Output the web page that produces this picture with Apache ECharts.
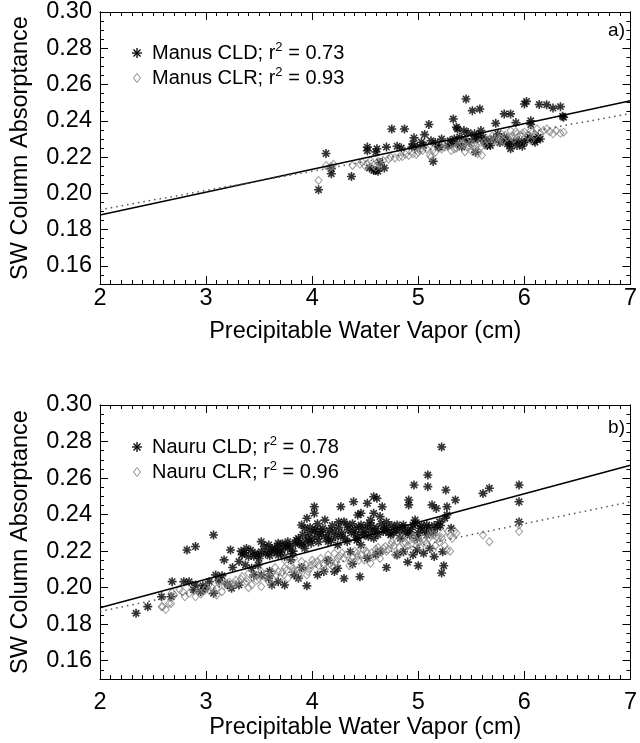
<!DOCTYPE html>
<html>
<head>
<meta charset="utf-8">
<script src="https://cdn.jsdelivr.net/npm/echarts/dist/echarts.min.js"></script>
<style>html,body{margin:0;padding:0;background:#fff}#c{width:640px;height:743px}</style>
</head>
<body>
<div id="c"></div>
<script>
// ---------------- data ----------------
const manusCld = [
[4.06,0.202],[4.13,0.222],[4.18,0.2136],[4.18,0.2108],[4.37,0.2093],[4.52,0.2255],[4.61,0.2246],[4.70,0.2255],
[4.58,0.2126],[4.62,0.2122],[4.60,0.2126],[4.75,0.2355],[4.87,0.2355],[4.96,0.2306],[5.06,0.2324],[5.10,0.238],
[4.94,0.2255],[4.99,0.2255],[5.14,0.2176],[5.19,0.2255],[5.33,0.241],[5.36,0.2364],[5.37,0.2355],[5.43,0.2346],
[5.45,0.252],[5.51,0.2456],[5.58,0.2465],[5.53,0.2328],[5.59,0.2346],[5.56,0.230],[5.54,0.2227],[5.64,0.2273],
[5.65,0.2264],[5.73,0.2386],[5.75,0.2328],[5.81,0.231],[5.81,0.2438],[5.87,0.2438],[5.87,0.2246],[5.93,0.2264],
[5.92,0.239],[6.0,0.2493],[6.02,0.2507],[6.06,0.240],[6.06,0.238],[6.09,0.2291],[6.15,0.230],[6.14,0.249],
[6.21,0.2489],[6.27,0.247],[6.34,0.2478],[6.37,0.242],[6.36,0.2425],[5.28,0.2264],[5.31,0.2273],[5.37,0.2273],
[5.20,0.2255],[5.41,0.2255],[5.68,0.2264],[5.84,0.2273],[6.0,0.2282],[6.03,0.230],[6.10,0.2282],[6.13,0.231],
[4.95,0.2273],[5.03,0.2282],[5.05,0.2264],[4.52,0.2235],[4.60,0.2228],[5.47,0.2335],[5.62,0.2290],[5.90,0.2285],
[5.30,0.2290],[5.34,0.2300],[5.39,0.2310],[5.44,0.2300],[5.48,0.2280],[5.52,0.2300],[5.57,0.2320],[5.61,0.2310],
[5.66,0.2290],[5.71,0.2300],[5.77,0.2280],[5.83,0.2300],[5.86,0.2270],[5.95,0.2290],[5.98,0.2260],[6.05,0.2310],
[6.12,0.2300],[5.12,0.2290],[5.16,0.2280],[5.22,0.2300],[4.54,0.2140],[4.64,0.2170],[4.68,0.2140],[4.80,0.2260],
[4.84,0.2250]
];
const manusClr = [
[4.06,0.2071],[4.13,0.2154],[4.16,0.2141],[4.18,0.2148],[4.38,0.2154],[4.47,0.2172],[4.55,0.2181],[4.58,0.2154],
[4.60,0.2145],[4.63,0.2163],[4.67,0.2181],[4.74,0.220],[4.85,0.2203],[4.91,0.2209],[4.95,0.2218],[5.0,0.2227],
[5.08,0.2245],[5.11,0.2209],[5.12,0.220],[5.25,0.2255],[5.31,0.2236],[5.37,0.2264],[5.42,0.2273],[5.50,0.2273],
[5.53,0.2245],[5.56,0.2236],[5.59,0.2255],[5.62,0.2282],[5.50,0.2236],[5.56,0.2218],[5.68,0.230],[5.75,0.2282],
[5.78,0.2328],[5.84,0.231],[5.87,0.2346],[5.93,0.2328],[6.0,0.2337],[6.06,0.2346],[6.12,0.2355],[6.18,0.2346],
[6.21,0.2355],[6.27,0.2328],[6.34,0.2331],[6.37,0.2337],[6.06,0.2291],[5.04,0.2236],[5.16,0.2227],[5.20,0.2264],
[5.45,0.229],[5.65,0.2295],[5.70,0.2318],[5.90,0.2300],[5.96,0.2318],[6.10,0.2320],[4.52,0.2163],[4.72,0.2190],
[4.88,0.2215],[5.34,0.2245],[5.46,0.2255],[5.80,0.2290],
[4.20,0.2160],[4.45,0.2160],[4.50,0.2150],[4.62,0.2175],[4.78,0.2195],[4.82,0.2200],[4.98,0.2215],[5.02,0.2240],
[5.14,0.2240],[5.22,0.2245],[5.28,0.2260],[5.36,0.2250],[5.40,0.2270],[5.48,0.2260],[5.52,0.2270],[5.58,0.2280],
[5.63,0.2265],[5.72,0.2290],[5.77,0.2305],[5.82,0.2320],[5.88,0.2315],[5.92,0.2340],[5.98,0.2330],[6.03,0.2320],
[6.08,0.2340],[6.15,0.2330],[6.24,0.2340],[6.30,0.2345],[5.60,0.2210],[5.44,0.2230]
];
const nauruCld = [
[5.22,0.277],[5.09,0.2617],[5.09,0.2553],[4.96,0.2562],[5.26,0.2535],[5.35,0.248],[5.61,0.2516],[5.67,0.2544],
[5.95,0.2562],[5.95,0.247],[5.95,0.236],[4.91,0.248],[4.91,0.2453],[5.13,0.2453],[5.17,0.2434],[5.27,0.2443],
[5.27,0.2398],[4.58,0.2498],[4.61,0.2489],[4.66,0.2443],[4.39,0.247],[4.52,0.2462],[4.27,0.2443],[4.02,0.2443],
[4.02,0.2407],[4.43,0.2398],[4.46,0.2407],[4.58,0.2407],[4.64,0.2389],[3.07,0.2288],[2.82,0.2206],[2.90,0.2225],
[3.23,0.2206],[3.17,0.2152],[2.68,0.2033],[2.79,0.2033],[2.84,0.2033],[3.03,0.2033],[3.09,0.207],[2.58,0.195],
[2.67,0.195],[2.45,0.1896],[2.34,0.186],[3.38,0.2215],[3.46,0.2188],[3.52,0.2197],[3.59,0.2197],[3.40,0.2170],
[3.49,0.2179],[3.65,0.2206],[3.71,0.2206],[3.77,0.2215],[3.31,0.2143],[3.37,0.2124],[3.43,0.2106],[3.49,0.2124],
[3.68,0.2179],[3.74,0.217],[3.80,0.2152],[3.90,0.2234],[3.93,0.2215],[3.99,0.2243],[3.90,0.2343],[3.93,0.2325],
[4.02,0.2307],[4.08,0.2307],[4.15,0.2288],[4.21,0.2307],[3.87,0.227],[3.96,0.227],[4.05,0.228],[4.15,0.2252],
[4.24,0.2234],[4.33,0.2252],[4.43,0.227],[4.49,0.2288],[4.55,0.2307],[4.30,0.2361],[4.33,0.2343],[4.46,0.2343],
[4.52,0.2343],[4.61,0.2325],[4.67,0.2307],[4.74,0.2288],[4.80,0.2343],[4.86,0.2343],[4.95,0.2343],[5.02,0.2325],
[5.08,0.2343],[4.83,0.227],[4.92,0.2288],[4.99,0.227],[5.08,0.2288],[5.20,0.2361],[5.25,0.238],[5.31,0.2325],
[4.21,0.2088],[4.24,0.2106],[3.68,0.2033],[3.62,0.2015],[3.74,0.2015],[3.83,0.207],[3.87,0.2051],[4.05,0.207],
[4.11,0.2088],[3.24,0.1997],[3.31,0.2015],[3.07,0.1969],[2.99,0.1997],[2.90,0.2015],[2.95,0.1978],[3.59,0.2051],
[3.52,0.207],[4.80,0.2179],[4.86,0.2197],[4.99,0.2206],[5.05,0.2188],[5.11,0.2215],[5.23,0.2197],[4.36,0.2197],
[4.46,0.2234],[4.52,0.2161],[4.64,0.2197],[3.52,0.2252],[3.59,0.2234],[3.68,0.2243],[3.77,0.2252],[3.55,0.2225],
[3.62,0.2215],[3.85,0.2260],[4.10,0.2325],[4.18,0.2260],[4.27,0.2280],[4.37,0.2300],[4.40,0.2320],[4.58,0.2270],
[4.70,0.2330],[4.77,0.2300],[4.90,0.2310],[5.00,0.2300],[5.15,0.2340],[4.12,0.2370],[3.95,0.2380],[4.65,0.2350],
[4.42,0.2260],[3.72,0.2240],[3.82,0.2200],[3.34,0.2180],[3.25,0.2110],[3.15,0.2065],[2.97,0.2010],[4.90,0.2140],
[5.00,0.2120],[5.22,0.2080],[4.70,0.2110],[4.45,0.2060],[3.95,0.2010],
[3.33,0.2200],[3.36,0.2190],[3.42,0.2205],[3.45,0.2172],[3.50,0.2160],[3.56,0.2185],[3.60,0.2175],[3.64,0.2195],
[3.67,0.2225],[3.70,0.2195],[3.75,0.2230],[3.79,0.2230],[3.81,0.2185],[3.84,0.2240],[3.88,0.2245],[3.91,0.2290],
[3.94,0.2250],[3.97,0.2300],[4.00,0.2265],[4.03,0.2320],[4.06,0.2250],[4.09,0.2290],[4.13,0.2270],[4.16,0.2315],
[4.19,0.2340],[4.22,0.2280],[4.25,0.2330],[4.28,0.2300],[4.31,0.2270],[4.34,0.2320],[4.38,0.2350],[4.41,0.2290],
[4.44,0.2330],[4.47,0.2300],[4.50,0.2320],[4.53,0.2280],[4.56,0.2340],[4.59,0.2310],[4.62,0.2290],[4.68,0.2320],
[4.72,0.2300],[4.75,0.2340],[4.78,0.2320],[4.82,0.2310],[4.85,0.2330],[4.88,0.2300],[4.93,0.2320],[4.97,0.2350],
[5.03,0.2340],[5.06,0.2310],[5.10,0.2330],[5.14,0.2300],[5.18,0.2330],[5.21,0.2340],[4.97,0.2370],[4.70,0.2360],
[4.55,0.2370],[4.25,0.2360],[4.05,0.2350],[3.98,0.2330],[3.45,0.2070],[3.60,0.2090],[3.90,0.2110],[4.15,0.2150],
[4.38,0.2130],[4.60,0.2180],[4.95,0.2180],[5.15,0.2170],[5.24,0.2120],[4.30,0.2050],[3.20,0.2020],[2.88,0.1990],
[3.12,0.2040]
];
const nauruClr = [
[2.59,0.1896],[2.67,0.1914],[2.68,0.1973],[2.58,0.1896],[2.65,0.1914],[2.78,0.1978],[2.84,0.1969],[2.90,0.195],
[2.93,0.1978],[2.99,0.1987],[3.06,0.1997],[3.12,0.2033],[3.18,0.2024],[3.24,0.2015],[3.31,0.2033],[3.37,0.2024],
[3.43,0.2015],[3.52,0.2006],[3.59,0.2033],[3.46,0.207],[3.52,0.2088],[3.62,0.2079],[3.68,0.2088],[3.74,0.2106],
[3.77,0.2051],[3.83,0.2088],[3.90,0.2097],[3.96,0.2088],[3.99,0.2124],[4.05,0.2143],[4.11,0.2124],[4.18,0.2143],
[4.24,0.2161],[4.15,0.2179],[4.21,0.2188],[4.30,0.2161],[4.36,0.2143],[4.43,0.217],[4.49,0.2152],[4.55,0.2134],
[4.52,0.2188],[4.61,0.2197],[4.67,0.2215],[4.74,0.2234],[4.80,0.2252],[4.86,0.2243],[4.92,0.2261],[4.99,0.2252],
[5.05,0.227],[5.11,0.2288],[5.14,0.2288],[5.19,0.227],[5.23,0.2298],[5.28,0.2307],[5.36,0.2298],[5.14,0.2206],
[5.27,0.2206],[5.61,0.2288],[5.67,0.2252],[5.95,0.2343],[5.95,0.2307],[4.83,0.2188],[4.92,0.2197],[3.83,0.2161],
[3.90,0.2143],[3.74,0.2152],[3.40,0.2079],[3.34,0.2061],[3.15,0.1978],[3.21,0.2006],[2.75,0.1990],[2.88,0.1985],
[3.00,0.2000],[3.28,0.2040],[3.55,0.2060],[3.65,0.2110],[3.80,0.2120],[3.92,0.2110],[4.00,0.2150],[4.08,0.2160],
[4.28,0.2190],[4.40,0.2200],[4.48,0.2210],[4.58,0.2170],[4.62,0.2220],[4.70,0.2200],[4.78,0.2180],[4.90,0.2230],
[5.02,0.2220],[5.08,0.2240],[5.20,0.2250],[5.25,0.2230],[5.32,0.2270],[4.35,0.2120],[4.20,0.2110],[3.95,0.2070],
[3.70,0.2050],[3.48,0.2040],[4.95,0.2280],[4.85,0.2270],[4.75,0.2250],
[2.70,0.1960],[2.80,0.1950],[2.95,0.1965],[3.03,0.1985],[3.10,0.1995],[3.17,0.2010],[3.22,0.2030],[3.27,0.2020],
[3.33,0.2045],[3.38,0.2035],[3.44,0.2055],[3.50,0.2050],[3.56,0.2075],[3.60,0.2065],[3.66,0.2070],[3.72,0.2085],
[3.76,0.2095],[3.82,0.2105],[3.86,0.2095],[3.94,0.2125],[3.98,0.2105],[4.02,0.2135],[4.06,0.2120],[4.13,0.2150],
[4.17,0.2130],[4.23,0.2140],[4.26,0.2175],[4.32,0.2180],[4.38,0.2165],[4.42,0.2190],[4.46,0.2180],[4.51,0.2200],
[4.56,0.2190],[4.60,0.2210],[4.65,0.2195],[4.69,0.2225],[4.72,0.2210],[4.77,0.2230],[4.82,0.2220],[4.88,0.2245],
[4.93,0.2240],[4.97,0.2265],[5.01,0.2250],[5.06,0.2255],[5.10,0.2270],[5.17,0.2280],[5.22,0.2275],[5.30,0.2285],
[5.34,0.2310],[5.16,0.2230],[5.30,0.2200],[4.64,0.2160],[4.44,0.2150],[4.12,0.2100],[3.88,0.2060],[3.62,0.2020],
[3.40,0.2000],[3.10,0.1960],[2.62,0.1880]
];
// regression lines (end points)
const manusCldFit = [[2,0.188],[7,0.251]];
const manusClrFit = [[2,0.191],[7,0.244]];
const nauruCldFit = [[2,0.189],[7,0.267]];
const nauruClrFit = [[2,0.187],[7,0.247]];
// axes
const xMin = 2, xMax = 7, xStep = 1;
const yMin = 0.15, yMax = 0.30, yMinorStep = 0.005;
const yLabelValues = [0.16,0.18,0.20,0.22,0.24,0.26,0.28,0.30];
const legendA = ['Manus CLD; r', '2', ' = 0.73', 'Manus CLR; r', '2', ' = 0.93'];
const legendB = ['Nauru CLD; r', '2', ' = 0.78', 'Nauru CLR; r', '2', ' = 0.96'];
const panelTags = ['a)', 'b)'];
const xTitle = 'Precipitable Water Vapor (cm)';
const yTitle = 'SW Column Absorptance';

// ---------------- chart ----------------
const FONT = "'Liberation Sans', Arial, Helvetica, sans-serif";
const ASTER = 'path://M5,0L5,10M0,5L10,5M1.5,1.5L8.5,8.5M8.5,1.5L1.5,8.5';
const GRAY = '#858585';

const grids = [
  {left:100, top:11, width:536, height:273},
  {left:100, top:405, width:536, height:274}
];
const xLabelMargins = [3, 12];

const TICK = {color:'#000', width:1};
const xAxes = [], yAxes = [];
grids.forEach((g, gi) => {
  const common = {type:'value', min:xMin, max:xMax, interval:xStep, gridIndex:gi,
    axisLine:{show:true, onZero:false, lineStyle:{color:'#000', width:1}},
    axisTick:{show:true, inside:true, length:8, lineStyle:TICK},
    minorTick:{show:true, splitNumber:10, length:4, lineStyle:TICK},
    splitLine:{show:false}};
  xAxes.push(Object.assign({}, common, {position:'bottom',
    name:xTitle, nameLocation:'middle', nameGap:36,
    nameTextStyle:{fontSize:23.5, color:'#000', fontFamily:FONT},
    axisLabel:{fontSize:23.5, color:'#000', fontFamily:FONT, margin:xLabelMargins[gi]}}));
  xAxes.push(Object.assign({}, common, {position:'top', axisLabel:{show:false}}));
  const yc = {type:'value', min:yMin, max:yMax, gridIndex:gi, splitLine:{show:false},
    axisLine:{show:true, onZero:false, lineStyle:{color:'#000', width:1}}};
  yAxes.push(Object.assign({}, yc, {position:'left',
    name:yTitle, nameLocation:'middle', nameGap:67,
    nameTextStyle:{fontSize:23.5, color:'#000', fontFamily:FONT},
    axisTick:{show:true, inside:true, length:8, customValues:yLabelValues, lineStyle:TICK},
    axisLabel:{customValues:yLabelValues, fontSize:23.5, color:'#000', fontFamily:FONT, margin:8,
      formatter:v => Number(v).toFixed(2)}}));
  yAxes.push(Object.assign({}, yc, {position:'left', interval:yMinorStep,
    axisTick:{show:true, inside:true, length:4, lineStyle:TICK}, axisLabel:{show:false}}));
  yAxes.push(Object.assign({}, yc, {position:'right',
    axisTick:{show:true, inside:true, length:8, customValues:yLabelValues, lineStyle:TICK},
    axisLabel:{show:false}}));
  yAxes.push(Object.assign({}, yc, {position:'right', interval:yMinorStep,
    axisTick:{show:true, inside:true, length:4, lineStyle:TICK}, axisLabel:{show:false}}));
});

function panelSeries(gi, cld, clr, cldFit, clrFit) {
  const xi = gi*2, yi = gi*4;
  return [
    {type:'scatter', xAxisIndex:xi, yAxisIndex:yi, data:cld, symbol:ASTER, symbolSize:9,
      itemStyle:{color:'transparent', borderColor:'#000', borderWidth:1.6}, z:2},
    {type:'scatter', xAxisIndex:xi, yAxisIndex:yi, data:clr, symbol:'diamond', symbolSize:[7,8],
      itemStyle:{color:'transparent', borderColor:GRAY, borderWidth:1}, z:3},
    {type:'line', xAxisIndex:xi, yAxisIndex:yi, data:cldFit, symbol:'none',
      lineStyle:{color:'#000', width:1.5, type:'solid'}, z:4},
    {type:'line', xAxisIndex:xi, yAxisIndex:yi, data:clrFit, symbol:'none',
      lineStyle:{color:'#555', width:1.5, type:[1.5,4]}, z:4}
  ];
}

function asteriskLines(cx, cy, r) {
  const d = r*0.7;
  const st = {stroke:'#000', lineWidth:1.3};
  return [
    {type:'line', shape:{x1:cx, y1:cy-r, x2:cx, y2:cy+r}, style:st},
    {type:'line', shape:{x1:cx-r, y1:cy, x2:cx+r, y2:cy}, style:st},
    {type:'line', shape:{x1:cx-d, y1:cy-d, x2:cx+d, y2:cy+d}, style:st},
    {type:'line', shape:{x1:cx+d, y1:cy-d, x2:cx-d, y2:cy+d}, style:st}
  ];
}

function legendGraphics(top, labels) {
  const rich = {a:{fontSize:20, fontFamily:FONT, color:'#000'},
                s:{fontSize:13, fontFamily:FONT, color:'#000', padding:[0,0,11,0]}};
  const r1 = top + 42, r2 = top + 67;
  return asteriskLines(137, r1, 5).concat([
    {type:'polygon', shape:{points:[[137,r2-4.5],[140.5,r2],[137,r2+4.5],[133.5,r2]]},
      style:{fill:'none', stroke:GRAY, lineWidth:1}},
    {type:'text', x:152, y:r1, style:{text:'{a|'+labels[0]+'}{s|'+labels[1]+'}{a|'+labels[2]+'}',
      rich:rich, verticalAlign:'middle', align:'left'}},
    {type:'text', x:152, y:r2, style:{text:'{a|'+labels[3]+'}{s|'+labels[4]+'}{a|'+labels[5]+'}',
      rich:rich, verticalAlign:'middle', align:'left'}}
  ]);
}

const graphics = [].concat(
  legendGraphics(grids[0].top, legendA),
  legendGraphics(grids[1].top, legendB),
  [
    {type:'text', x:625, y:grids[0].top+20, style:{text:panelTags[0], font:'19px '+FONT, fill:'#000', align:'right', verticalAlign:'middle'}},
    {type:'text', x:625, y:grids[1].top+23, style:{text:panelTags[1], font:'19px '+FONT, fill:'#000', align:'right', verticalAlign:'middle'}}
  ]
);

const chart = echarts.init(document.getElementById('c'), null, {renderer:'canvas'});
chart.setOption({
  animation:false,
  backgroundColor:'#fff',
  grid:grids,
  xAxis:xAxes,
  yAxis:yAxes,
  series:[].concat(
    panelSeries(0, manusCld, manusClr, manusCldFit, manusClrFit),
    panelSeries(1, nauruCld, nauruClr, nauruCldFit, nauruClrFit)
  ),
  graphic:graphics
});
</script>
</body>
</html>
